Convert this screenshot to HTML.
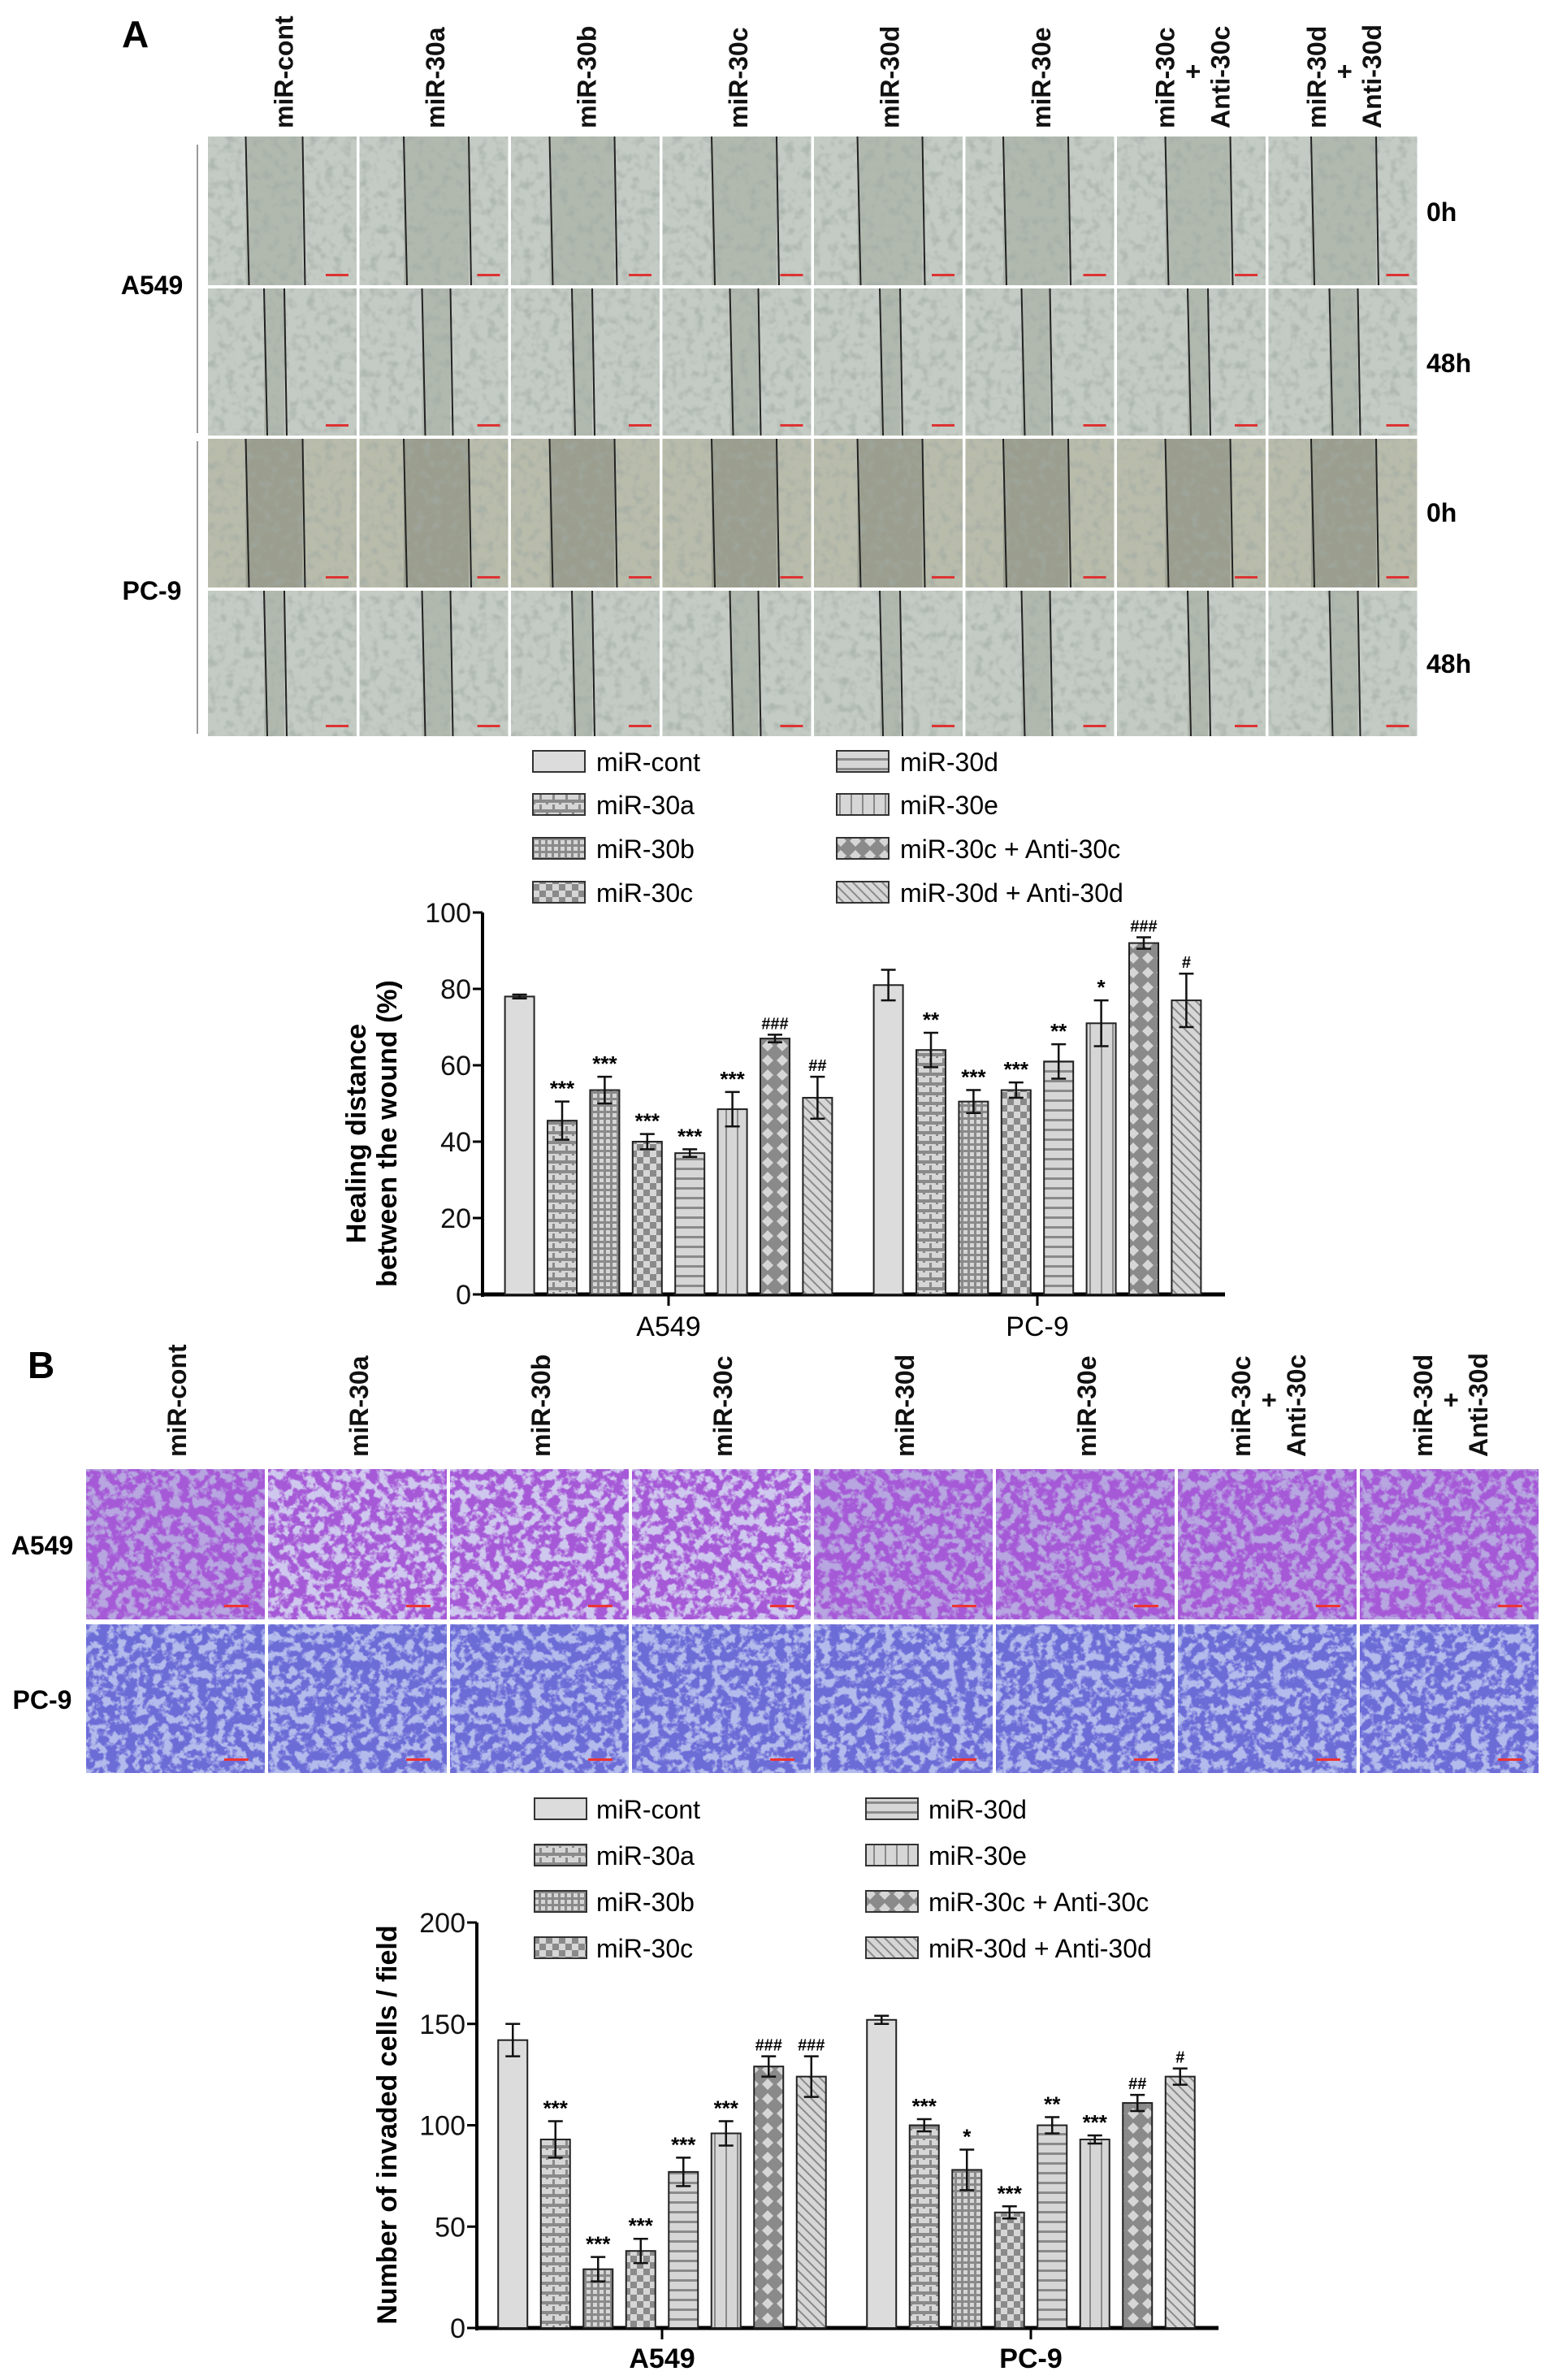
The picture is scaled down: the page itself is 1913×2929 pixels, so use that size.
<!DOCTYPE html>
<html><head><meta charset="utf-8"><style>
html,body{margin:0;padding:0;background:#fff}
svg{display:block;font-family:"Liberation Sans",Arial,sans-serif}
</style></head><body>
<svg id="fig" width="1913" height="2929" viewBox="0 0 1913 2929" xmlns="http://www.w3.org/2000/svg">
<defs>
<filter id="noiseGrey" x="0" y="0" width="100%" height="100%">
<feTurbulence type="fractalNoise" baseFrequency="0.09" numOctaves="2" seed="3"/>
<feColorMatrix type="matrix" values="0 0 0 0 0.35  0 0 0 0 0.4  0 0 0 0 0.37  3 0 0 0 -1.4"/>
</filter>
<filter id="noisePurple" x="0" y="0" width="100%" height="100%">
<feTurbulence type="fractalNoise" baseFrequency="0.09" numOctaves="3" seed="7"/>
<feColorMatrix type="matrix" values="0 0 0 0 0.38  0 0 0 0 0.1  0 0 0 0 0.68  6 0 0 0 -2.4"/>
</filter>
<filter id="noiseBlue" x="0" y="0" width="100%" height="100%">
<feTurbulence type="fractalNoise" baseFrequency="0.09" numOctaves="3" seed="11"/>
<feColorMatrix type="matrix" values="0 0 0 0 0.15  0 0 0 0 0.15  0 0 0 0 0.68  6 0 0 0 -2.3"/>
</filter>
<pattern id="p1" width="16" height="12" patternUnits="userSpaceOnUse"><rect width="16" height="12" fill="#d6d6d6"/><rect y="0" width="16" height="4" fill="#8a8a8a"/><rect x="0" y="4" width="3" height="2" fill="#8a8a8a"/><rect x="8" y="6" width="3" height="6" fill="#8a8a8a"/></pattern>
<pattern id="p2" width="16" height="16" patternUnits="userSpaceOnUse"><rect width="16" height="16" fill="#8a8a8a"/><rect x="2" y="2" width="5" height="5" fill="#d6d6d6"/><rect x="10" y="2" width="5" height="5" fill="#d6d6d6"/><rect x="2" y="10" width="5" height="5" fill="#d6d6d6"/><rect x="10" y="10" width="5" height="5" fill="#d6d6d6"/></pattern>
<pattern id="p3" width="16" height="16" patternUnits="userSpaceOnUse"><rect width="16" height="16" fill="#d6d6d6"/><rect width="8" height="8" fill="#8a8a8a"/><rect x="8" y="8" width="8" height="8" fill="#8a8a8a"/></pattern>
<pattern id="p4" width="10" height="12" patternUnits="userSpaceOnUse"><rect width="10" height="12" fill="#d6d6d6"/><rect y="9" width="10" height="3" fill="#8a8a8a"/></pattern>
<pattern id="p5" width="14" height="10" patternUnits="userSpaceOnUse"><rect width="14" height="10" fill="#d6d6d6"/><rect x="11" width="2" height="10" fill="#8a8a8a"/></pattern>
<pattern id="p6" width="18" height="18" patternUnits="userSpaceOnUse"><rect width="18" height="18" fill="#8a8a8a"/><polygon points="9,2 16,9 9,16 2,9" fill="#d6d6d6"/></pattern>
<pattern id="p7" width="12" height="12" patternUnits="userSpaceOnUse"><rect width="12" height="12" fill="#d6d6d6"/><path d="M-3,-3 L15,15 M-3,9 L3,15 M9,-3 L15,3" stroke="#8a8a8a" stroke-width="2"/></pattern>
</defs>
<g id="root"></g>
</svg>
<script>
// ===== Chart A data (wound healing %) =====
const groupLabels=['A549','PC-9'];
const seriesNames=['miR-cont','miR-30a','miR-30b','miR-30c','miR-30d','miR-30e','miR-30c + Anti-30c','miR-30d + Anti-30d'];
const healA549=[78,45.5,53.5,40,37,48.5,67,51.5];
const healA549Err=[0.5,5,3.5,2,1,4.5,1,5.5];
const healPC9=[81,64,50.5,53.5,61,71,92,77];
const healPC9Err=[4,4.5,3,2,4.5,6,1.5,7];
const healA549Sig=['','***','***','***','***','***','###','##'];
const healPC9Sig=['','**','***','***','**','*','###','#'];
const healTicks=[0,20,40,60,80,100];
// ===== Chart B data (invaded cells) =====
const invA549=[142,93,29,38,77,96,129,124];
const invA549Err=[8,9,6,6,7,6,5,10];
const invPC9=[152,100,78,57,100,93,111,124];
const invPC9Err=[2,3,10,3,4,2,4,4];
const invA549Sig=['','***','***','***','***','***','###','###'];
const invPC9Sig=['','***','*','***','**','***','##','#'];
const invTicks=[0,50,100,150,200];

const NS='http://www.w3.org/2000/svg';
const root=document.getElementById('root');
function mk(tag,attrs,parent,txt){const e=document.createElementNS(NS,tag);for(const k in attrs)e.setAttribute(k,attrs[k]);if(txt!==undefined)e.textContent=txt;(parent||root).appendChild(e);return e;}
const fills=['#dcdcdc','url(#p1)','url(#p2)','url(#p3)','url(#p4)','url(#p5)','url(#p6)','url(#p7)'];

// ===== Photo panels =====
const colHeadersA=[['miR-cont'],['miR-30a'],['miR-30b'],['miR-30c'],['miR-30d'],['miR-30e'],['miR-30c','+','Anti-30c'],['miR-30d','+','Anti-30d']];
function headers(x0,w,bottom,fs){
  colHeadersA.forEach((h,i)=>{
    const cx=x0+w*i+w/2;
    const n=h.length;
    h.forEach((t,j)=>{
      const tx=cx+(j-(n-1)/2)*34+11;
      const e=mk('text',{x:tx,y:bottom,transform:`rotate(-90 ${tx} ${bottom})`,'font-size':32,'font-weight':'bold','text-anchor':t==='+'?'middle':'start',fill:'#111'},root,t);
      if(t==='+'){e.setAttribute('x',tx);e.setAttribute('y',bottom-70);e.setAttribute('transform',`rotate(-90 ${tx} ${bottom-70})`);}
      
      
    });
  });
}
// Panel A photos
mk('text',{x:150,y:58,'font-size':46,'font-weight':'bold',},root,'A');
headers(256,186.5,158,32);
const rowsA=[[168,351],[355,536],[540,723],[727,906]];
rowsA.forEach((r,ri)=>{
  for(let c=0;c<8;c++){
    const x=256+186.5*c,w=183,y=r[0],h=r[1]-r[0];
    const g=mk('g',{});
    
    
    const base=ri===2?'#b9bcab':'#c4cbc4';
    mk('rect',{x,y,width:w,height:h,fill:base},g);
    const gapW=(ri%2===0)?(c===0?70:80):(c%2===0?25:35);
    const gx=x+w/2-gapW/2+((c*13)%20-10);
    mk('rect',{x:gx,y,width:gapW,height:h,fill:ri===2?'#8f9282':'#a9b0a6',opacity:0.7},g);
    mk('rect',{x,y,width:w,height:h,filter:'url(#noiseGrey)',opacity:0.6},g);
    mk('line',{x1:gx,y1:y,x2:gx+4,y2:y+h,stroke:'#222','stroke-width':2},g);
    mk('line',{x1:gx+gapW,y1:y,x2:gx+gapW+3,y2:y+h,stroke:'#222','stroke-width':2},g);
    mk('rect',{x:x+w-38,y:y+h-14,width:28,height:3,fill:'#d33'},g);
  }
});
mk('line',{x1:243,y1:178,x2:243,y2:533,stroke:'#999','stroke-width':2,});
mk('line',{x1:243,y1:543,x2:243,y2:903,stroke:'#999','stroke-width':2,});
mk('text',{x:187,y:362,'font-size':32,'font-weight':'bold','text-anchor':'middle',},root,'A549');
mk('text',{x:187,y:738,'font-size':32,'font-weight':'bold','text-anchor':'middle',},root,'PC-9');
[[272,'0h'],[458,'48h'],[642,'0h'],[828,'48h']].forEach(t=>{
  const e=mk('text',{x:1756,y:t[0],'font-size':32,'font-weight':'bold'},root,t[1]);
  
  
});

// Panel B photos
mk('text',{x:34,y:1696,'font-size':46,'font-weight':'bold',},root,'B');
headers(106,224,1793,32);
const rowsB=[[1808,1993],[1999,2182]];
rowsB.forEach((r,ri)=>{
  for(let c=0;c<8;c++){
    const x=106+224*c,w=220,y=r[0],h=r[1]-r[0];
    const g=mk('g',{});
    
    
    mk('rect',{x,y,width:w,height:h,fill:ri===0?(c>=1&&c<=3?'#cfc8ee':'#b7a6e0'):'#b3bbec'},g);
    mk('rect',{x,y,width:w,height:h,filter:ri===0?'url(#noisePurple)':'url(#noiseBlue)',opacity:1},g);
    mk('rect',{x:x+w-50,y:y+h-18,width:30,height:3,fill:'#e33'},g);
  }
});
mk('text',{x:52,y:1913,'font-size':32,'font-weight':'bold','text-anchor':'middle',},root,'A549');
mk('text',{x:52,y:2103,'font-size':32,'font-weight':'bold','text-anchor':'middle',},root,'PC-9');

// ===== Legend =====
function legend(rows,lx,ltx,rx,rtx,fs){
  seriesNames.forEach((n,i)=>{
    const col=i<4?0:1, row=i%4;
    const y=rows[row];
    const sx=col?rx:lx, tx=col?rtx:ltx;
    const g=mk('g',{});
    
    
    mk('rect',{x:sx,y:y-14,width:64,height:26,fill:fills[i],stroke:'#333','stroke-width':2},g);
    mk('text',{x:tx,y:y+11,'font-size':fs},g,n);
  });
}
legend([938,991,1045,1099],656,734,1030,1108,32);
legend([2227,2284,2341,2398],658,734,1066,1143,32);

// ===== Bar chart =====
function chart(o){
  const y=v=>o.y0-v*(o.y0-o.yTop)/o.max;
  const cg=mk('g',{});
  
  
  mk('line',{x1:o.ax,y1:o.yTop,x2:o.ax,y2:o.y0+3,stroke:'#000','stroke-width':4},cg);
  o.ticks.forEach(t=>{
    mk('line',{x1:o.ax-12,y1:y(t),x2:o.ax,y2:y(t),stroke:'#000','stroke-width':3},cg);
    const e=mk('text',{x:o.ax-14,y:y(t)+12,'font-size':34,'text-anchor':'end',fill:'#111'},cg,t);
    
    
  });
  mk('line',{x1:o.ax-2,y1:o.y0,x2:o.axEnd,y2:o.y0,stroke:'#000','stroke-width':5},cg);
  const groups=[[o.a,o.aErr,o.aSig],[o.b,o.bErr,o.bSig]];
  groups.forEach((gd,gi)=>{
    const gc=o.centers[gi];
    mk('line',{x1:gc,y1:o.y0,x2:gc,y2:o.y0+14,stroke:'#000','stroke-width':3},cg);
    const lab=mk('text',{x:gc,y:o.labY,'font-size':34,'text-anchor':'middle','font-weight':o.boldLab?'bold':'normal'},cg,groupLabels[gi]);
    
    
    gd[0].forEach((v,i)=>{
      const cx=gc+(i-3.5)*o.step, bw=36;
      const b=mk('rect',{x:cx-bw/2,y:y(v),width:bw,height:o.y0-y(v),fill:fills[i],stroke:'#222','stroke-width':2},cg);
      
      
      const e=gd[1][i];
      const eb=mk('path',{d:`M${cx},${y(v+e)} V${y(v-e)} M${cx-9},${y(v+e)} H${cx+9} M${cx-9},${y(v-e)} H${cx+9}`,stroke:'#111','stroke-width':2.5,fill:'none'},cg);
      
      
      if(gd[2][i]){
        const s=mk('text',{x:cx,y:y(v+e)-7,'font-size':gd[2][i][0]==='#'?20:26,'font-weight':'bold','text-anchor':'middle'},cg,gd[2][i]);
        
        
      }
    });
  });
  o.title.forEach((t,i)=>{
    const tx=o.titleX+i*38;
    const e=mk('text',{x:tx,y:o.titleY,transform:`rotate(-90 ${tx} ${o.titleY})`,'font-size':34,'font-weight':'bold','text-anchor':'middle'},cg,t);
    
    
  });
}
chart({name:'healing-chart',ax:594,axEnd:1508,y0:1593,yTop:1123,max:100,ticks:healTicks,centers:[823,1277],step:52.4,
  a:healA549,aErr:healA549Err,aSig:healA549Sig,b:healPC9,bErr:healPC9Err,bSig:healPC9Sig,labY:1644,boldLab:false,
  title:['Healing distance','between the wound (%)'],titleX:450,titleY:1395});
chart({name:'invasion-chart',ax:587,axEnd:1500,y0:2865,yTop:2366,max:200,ticks:invTicks,centers:[815,1269],step:52.5,
  a:invA549,aErr:invA549Err,aSig:invA549Sig,b:invPC9,bErr:invPC9Err,bSig:invPC9Sig,labY:2914,boldLab:true,
  title:['Number of invaded cells / field'],titleX:488,titleY:2615});
</script>
</body></html>
